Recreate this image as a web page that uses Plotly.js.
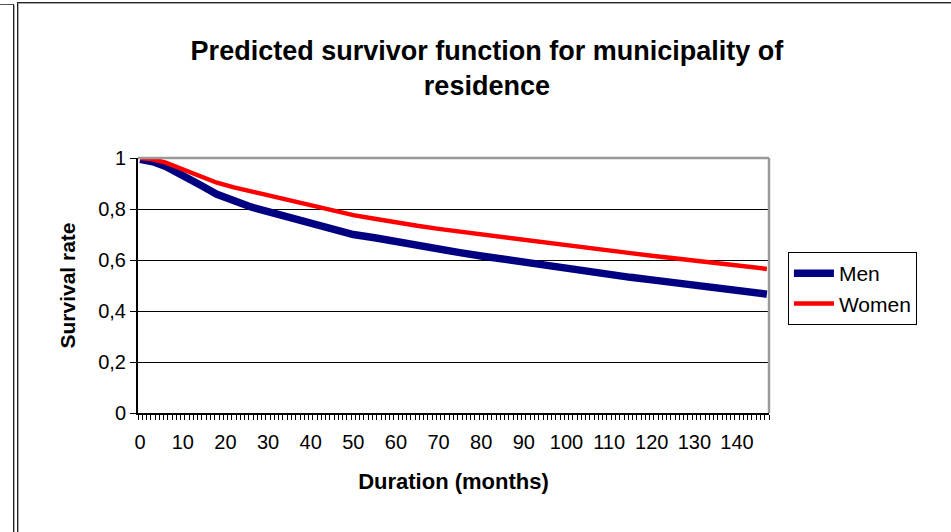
<!DOCTYPE html>
<html>
<head>
<meta charset="utf-8">
<script src="https://cdn.plot.ly/plotly-3.0.1.min.js"></script>
<style>
  html, body { margin: 0; padding: 0; background: #fff; }
  #chart { width: 951px; height: 532px; position: absolute; left: 0; top: 0; }
  .ln { position: absolute; }
</style>
</head>
<body>
<div id="chart"></div>
<div class="ln" style="left:0;top:4px;width:14px;height:1px;background:#555;"></div>
<div class="ln" style="left:13px;top:4px;width:1px;height:528px;background:#222;"></div>
<div class="ln" style="left:14px;top:5px;width:1px;height:527px;background:#aaa;"></div>
<div class="ln" style="left:17px;top:2px;width:934px;height:1px;background:#222;"></div>
<div class="ln" style="left:18px;top:3px;width:933px;height:1px;background:#aaa;"></div>
<div class="ln" style="left:17px;top:2px;width:1px;height:530px;background:#222;"></div>
<div class="ln" style="left:18px;top:3px;width:1px;height:529px;background:#aaa;"></div>
<script>
// Duration in months
const months = [0, 3, 6, 10, 14, 18, 22, 26, 30, 34, 38, 42, 46, 50, 55, 60, 65, 70, 75, 80,
                85, 90, 95, 100, 105, 110, 115, 120, 125, 130, 135, 140, 147];
// Predicted survival rate
const men = [0.995, 0.985, 0.967, 0.935, 0.895, 0.858, 0.832, 0.808, 0.790, 0.771, 0.753, 0.736,
             0.714, 0.700, 0.687, 0.671, 0.656, 0.642, 0.629, 0.616, 0.603, 0.590, 0.580, 0.566,
             0.555, 0.543, 0.532, 0.522, 0.512, 0.501, 0.491, 0.481, 0.466];
const women = [1.000, 0.995, 0.982, 0.955, 0.928, 0.903, 0.885, 0.869, 0.852, 0.836, 0.821, 0.808,
               0.791, 0.776, 0.762, 0.746, 0.734, 0.722, 0.711, 0.700, 0.689, 0.678, 0.668, 0.657,
               0.647, 0.637, 0.627, 0.617, 0.607, 0.598, 0.589, 0.579, 0.565];
const seriesNames = ["Men", "Women"];
const xTickVals = [0, 10, 20, 30, 40, 50, 60, 70, 80, 90, 100, 110, 120, 130, 140];
const xTickText = ["0", "10", "20", "30", "40", "50", "60", "70", "80", "90", "100", "110", "120", "130", "140"];
const yTickVals = [0, 0.2, 0.4, 0.6, 0.8, 1];
const yTickText = ["0", "0,2", "0,4", "0,6", "0,8", "1"];

const FONT = "Liberation Sans, Arial, Helvetica, sans-serif";

const traces = [
  { x: months, y: men, name: seriesNames[0], type: "scatter", mode: "lines",
    line: { color: "#000080", width: 7.5 } },
  { x: months, y: women, name: seriesNames[1], type: "scatter", mode: "lines",
    line: { color: "#FF0000", width: 4.5 } }
];

const layout = {
  width: 951, height: 532,
  margin: { l: 138, r: 182, t: 158, b: 119 },
  paper_bgcolor: "#fff", plot_bgcolor: "#fff",
  font: { family: FONT, color: "#000", size: 20 },
  title: {
    text: "<b>Predicted survivor function for municipality of<br>residence</b>",
    font: { family: FONT, size: 27, color: "#000" },
    xref: "container", yref: "container", x: 0.512, y: 0.888,
    xanchor: "center", yanchor: "middle"
  },
  xaxis: {
    range: [-0.5, 147.5], tickmode: "array", tickvals: xTickVals, ticktext: xTickText,
    ticks: "outside", ticklen: 5, tickcolor: "rgba(0,0,0,0)",
    ticklabelstandoff: 5,
    minor: { ticks: "outside", ticklen: 5, tickcolor: "#000", tickmode: "linear", tick0: -0.5, dtick: 1, showgrid: false },
    showline: true, linecolor: "#000", linewidth: 1.5,
    showgrid: false, zeroline: false,
    tickfont: { family: FONT, size: 20, color: "#000" },
    title: { text: "<b>Duration (months)</b>", font: { family: FONT, size: 22, color: "#000" }, standoff: 22 }
  },
  yaxis: {
    range: [0, 1], tickmode: "array", tickvals: yTickVals, ticktext: yTickText,
    ticks: "outside", ticklen: 6, tickcolor: "#000",
    showline: true, linecolor: "#000", linewidth: 2,
    showgrid: true, gridcolor: "#000", gridwidth: 1, zeroline: false,
    tickfont: { family: FONT, size: 20, color: "#000" },
    title: { text: "<b>Survival rate</b>", font: { family: FONT, size: 21, color: "#000" }, standoff: 17 }
  },
  shapes: [
    { type: "line", xref: "paper", yref: "paper", x0: 0, x1: 1, y0: 1, y1: 1, line: { color: "#999", width: 2.5 } },
    { type: "line", xref: "paper", yref: "paper", x0: 1, x1: 1, y0: 0, y1: 1, line: { color: "#999", width: 2.5 } }
  ],
  showlegend: true,
  legend: {
    x: 1.030, y: 0.631, xanchor: "left", yanchor: "top",
    bgcolor: "#fff", bordercolor: "#000", borderwidth: 1,
    font: { family: FONT, size: 21, color: "#000" },
    itemwidth: 40, tracegroupgap: 0
  }
};

Plotly.newPlot("chart", traces, layout, { displayModeBar: false, staticPlot: true });
</script>
</body>
</html>
